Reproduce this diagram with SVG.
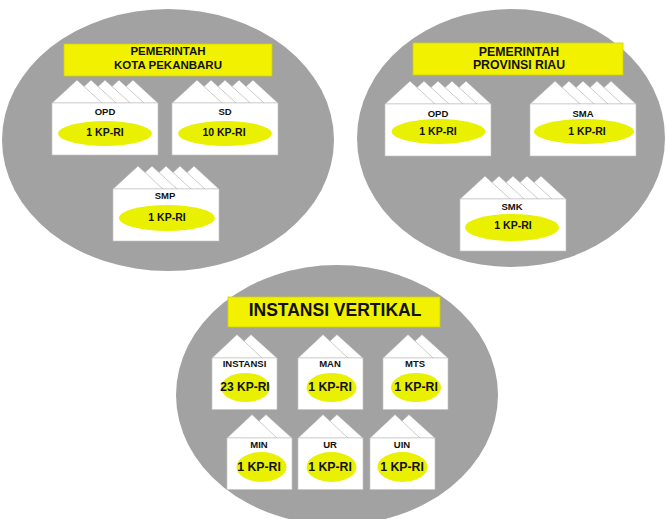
<svg xmlns="http://www.w3.org/2000/svg" xmlns:xlink="http://www.w3.org/1999/xlink" width="666" height="519" viewBox="0 0 666 519">
<style>
.bg{fill:#a2a2a2}
.title{fill:#f2f200;stroke:#d2d200;stroke-width:0.8}
.t{font-family:"Liberation Sans",Arial,sans-serif;font-weight:bold;fill:#111;text-anchor:middle}
.roof{fill:#fff;stroke:#a8a8a8;stroke-width:0.6}
.body{fill:#fff;stroke:#c4c4c4;stroke-width:0.6}
.kp{fill:#e9f000}
.lbl{font-size:9.5px}
.kpt{font-size:10.5px}
.kpt3{font-size:12.3px}
</style>
<defs>
<g id="box5">
<polygon class="roof" points="56,0 81,-23 106,0"/>
<polygon class="roof" points="42,0 67,-23 92,0"/>
<polygon class="roof" points="28,0 53,-23 78,0"/>
<polygon class="roof" points="14,0 39,-23 64,0"/>
<polygon class="roof" points="0,0 25,-23 50,0"/>
<rect class="body" x="0" y="0" width="106" height="52"/>
</g>
<g id="box2">
<polygon class="roof" points="14,0 39,-23.5 65,0"/>
<polygon class="roof" points="0,0 25,-23.5 50,0"/>
<rect class="body" x="0" y="0" width="65" height="51.5"/>
</g>
</defs>

<g id="kota">
<ellipse class="bg" cx="168" cy="140" rx="166" ry="131"/>
<g id="kota-title">
<rect class="title" x="64" y="44" width="208" height="32"/>
<text class="t" x="168" y="55" font-size="11.5">PEMERINTAH</text>
<text class="t" x="168" y="68.5" font-size="11.5">KOTA PEKANBARU</text>
</g>
<g id="kota-opd">
<use xlink:href="#box5" x="52" y="103"/>
<text class="t lbl" x="105" y="115">OPD</text>
<ellipse class="kp" cx="105" cy="133.5" rx="47" ry="12.5"/>
<text class="t kpt" x="105" y="135.5">1 KP-RI</text>
</g>
<g id="kota-sd">
<use xlink:href="#box5" x="172" y="103"/>
<text class="t lbl" x="225" y="115">SD</text>
<ellipse class="kp" cx="225" cy="133.5" rx="47" ry="12.5"/>
<text class="t kpt" x="224" y="135.5">10 KP-RI</text>
</g>
<g id="kota-smp">
<use xlink:href="#box5" x="113" y="189"/>
<text class="t lbl" x="165" y="199">SMP</text>
<ellipse class="kp" cx="167" cy="218" rx="48" ry="13"/>
<text class="t kpt" x="167" y="221">1 KP-RI</text>
</g>
</g>

<g id="provinsi">
<ellipse class="bg" cx="511" cy="138" rx="154" ry="129"/>
<g id="prov-title">
<rect class="title" x="413" y="43" width="210" height="32"/>
<text class="t" x="519" y="55.5" font-size="12.3">PEMERINTAH</text>
<text class="t" x="519" y="69" font-size="12.3">PROVINSI RIAU</text>
</g>
<g id="prov-opd">
<use xlink:href="#box5" x="385" y="104"/>
<text class="t lbl" x="438" y="116.5">OPD</text>
<ellipse class="kp" cx="438.5" cy="131.5" rx="47" ry="12.5"/>
<text class="t kpt" x="438" y="134.5">1 KP-RI</text>
</g>
<g id="prov-sma">
<use xlink:href="#box5" x="530" y="104"/>
<text class="t lbl" x="583" y="116.5">SMA</text>
<ellipse class="kp" cx="584" cy="131.5" rx="50" ry="12.5"/>
<text class="t kpt" x="587" y="134.5">1 KP-RI</text>
</g>
<g id="prov-smk">
<use xlink:href="#box5" x="460" y="199"/>
<text class="t lbl" x="512" y="209.5">SMK</text>
<ellipse class="kp" cx="512" cy="227.5" rx="47" ry="13.5"/>
<text class="t kpt" x="513" y="228.5">1 KP-RI</text>
</g>
</g>

<g id="vertikal">
<ellipse class="bg" cx="337" cy="395" rx="161" ry="130"/>
<g id="vert-title">
<rect class="title" x="228" y="297" width="212" height="30"/>
<text class="t" x="335" y="316" font-size="17.5">INSTANSI VERTIKAL</text>
</g>
<g id="vert-instansi">
<use xlink:href="#box2" x="212" y="358"/>
<text class="t lbl" x="244.5" y="366.5">INSTANSI</text>
<ellipse class="kp" cx="245.5" cy="387.5" rx="24.5" ry="14.5"/>
<text class="t" x="245" y="391" font-size="12">23 KP-RI</text>
</g>
<g id="vert-man">
<use xlink:href="#box2" x="298" y="358"/>
<text class="t lbl" x="330" y="366.5">MAN</text>
<ellipse class="kp" cx="331.5" cy="387.5" rx="25" ry="14.5"/>
<text class="t kpt3" x="330" y="391">1 KP-RI</text>
</g>
<g id="vert-mts">
<use xlink:href="#box2" x="383" y="358"/>
<text class="t lbl" x="415" y="366.5">MTS</text>
<ellipse class="kp" cx="416" cy="387.5" rx="25" ry="14.5"/>
<text class="t kpt3" x="416" y="391">1 KP-RI</text>
</g>
<g id="vert-min">
<use xlink:href="#box2" x="227" y="438"/>
<text class="t lbl" x="259" y="447.5">MIN</text>
<ellipse class="kp" cx="261.5" cy="467" rx="25" ry="15"/>
<text class="t kpt3" x="259" y="471">1 KP-RI</text>
</g>
<g id="vert-ur">
<use xlink:href="#box2" x="298" y="438"/>
<text class="t lbl" x="330" y="447.5">UR</text>
<ellipse class="kp" cx="331.5" cy="467" rx="25" ry="15"/>
<text class="t kpt3" x="330" y="471">1 KP-RI</text>
</g>
<g id="vert-uin">
<use xlink:href="#box2" x="370" y="438"/>
<text class="t lbl" x="402" y="447.5">UIN</text>
<ellipse class="kp" cx="402.5" cy="467" rx="25" ry="15"/>
<text class="t kpt3" x="402" y="471">1 KP-RI</text>
</g>
</g>

<g id="connectors"/>
</svg>
